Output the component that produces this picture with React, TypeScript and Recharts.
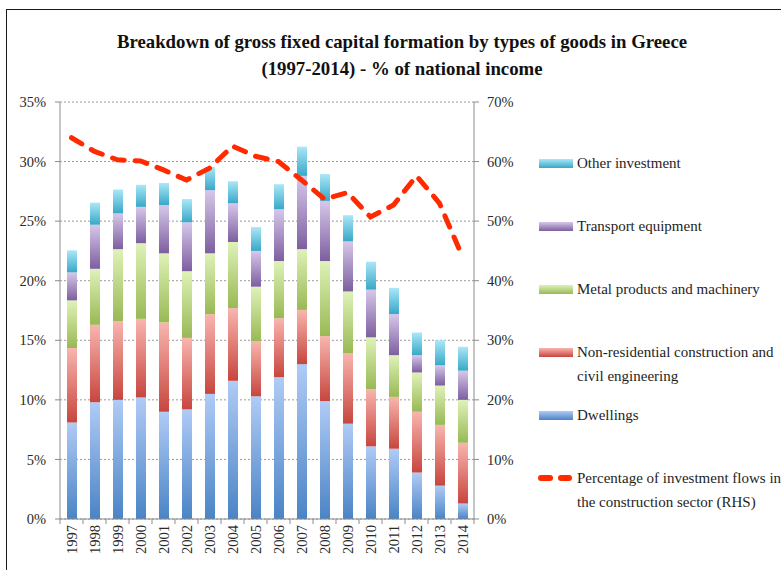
import React from 'react';
import { ComposedChart, Bar, Line, XAxis, YAxis, CartesianGrid } from 'recharts';

const SERIF = '"Liberation Serif", "DejaVu Serif", serif';

const years = ['1997', '1998', '1999', '2000', '2001', '2002', '2003', '2004', '2005', '2006', '2007', '2008', '2009', '2010', '2011', '2012', '2013', '2014'];

// % of national income (LHS)
const dwellings = [8.1, 9.8, 10.0, 10.2, 9.0, 9.2, 10.5, 11.6, 10.3, 11.9, 13.0, 9.9, 8.0, 6.1, 5.9, 3.9, 2.8, 1.3];
const nonResidential = [6.25, 6.5, 6.6, 6.6, 7.5, 6.0, 6.7, 6.1, 4.6, 4.95, 4.55, 5.45, 5.9, 4.8, 4.35, 5.1, 5.1, 5.1];
const metalProducts = [4.0, 4.7, 6.05, 6.35, 5.8, 5.6, 5.1, 5.55, 4.6, 4.8, 5.1, 6.3, 5.2, 4.35, 3.5, 3.3, 3.3, 3.6];
const transport = [2.35, 3.7, 3.0, 3.05, 4.05, 4.1, 5.3, 3.25, 3.0, 4.35, 6.15, 5.05, 4.2, 4.0, 3.45, 1.45, 1.7, 2.45];
const otherInvestment = [1.85, 1.85, 2.0, 1.85, 1.85, 1.95, 1.95, 1.85, 2.0, 2.1, 2.45, 2.25, 2.2, 2.35, 2.2, 1.9, 2.1, 2.0];

// % of investment flows in construction (RHS)
const construction = [64.0, 61.7, 60.3, 60.1, 58.6, 56.9, 58.9, 62.6, 60.9, 60.0, 56.9, 53.7, 54.8, 50.7, 52.7, 57.6, 53.0, 44.0];

const leftTicks = [0, 5, 10, 15, 20, 25, 30, 35];
const rightTicks = [0, 10, 20, 30, 40, 50, 60, 70];

const series = [
  { key: 'dwellings', name: 'Dwellings', top: '#b0cbf6', bottom: '#4a84c5' },
  { key: 'nonResidential', name: ['Non-residential construction and', 'civil engineering'], top: '#f9b5af', bottom: '#c7463e' },
  { key: 'metalProducts', name: 'Metal products and machinery', top: '#dff2b8', bottom: '#98b954' },
  { key: 'transport', name: 'Transport equipment', top: '#d6c8ea', bottom: '#7d5e9f' },
  { key: 'otherInvestment', name: 'Other investment', top: '#aae7f8', bottom: '#38a8c7' },
];

const data = years.map((year, i) => ({
  year,
  dwellings: dwellings[i],
  nonResidential: nonResidential[i],
  metalProducts: metalProducts[i],
  transport: transport[i],
  otherInvestment: otherInvestment[i],
  construction: construction[i],
}));

const STEP = 414 / years.length;

const YearTick = (props: any) => {
  const { x, y, payload, index } = props;
  const axisY = y - 6;
  return (
    <g>
      <line x1={x - STEP / 2} x2={x - STEP / 2} y1={axisY} y2={axisY + 5} stroke="#8c8c8c" />
      {index === years.length - 1 && (
        <line x1={x + STEP / 2} x2={x + STEP / 2} y1={axisY} y2={axisY + 5} stroke="#8c8c8c" />
      )}
      <text
        x={x}
        y={y}
        dy="0.35em"
        textAnchor="end"
        transform={`rotate(-90, ${x}, ${y})`}
        fill="#2a2a2a"
        fontFamily={SERIF}
        fontSize={14.5}
      >
        {payload.value}
      </text>
    </g>
  );
};

const LegendBox = () => {
  const rows = [...series].reverse();
  return (
    <div
      style={{
        position: 'absolute',
        left: 536,
        top: 151,
        width: 245,
        fontFamily: SERIF,
        fontSize: 15,
        color: '#1e1e1e',
        lineHeight: '24px',
      }}
    >
      {rows.map((s) => (
        <div key={s.key} style={{ height: 63, display: 'flex', alignItems: 'flex-start' }}>
          <div
            style={{
              width: 34,
              height: 9,
              marginTop: 8,
              marginLeft: 3,
              marginRight: 4,
              flexShrink: 0,
              background: `linear-gradient(${s.top}, ${s.bottom})`,
            }}
          />
          <div>
            {(Array.isArray(s.name) ? s.name : [s.name]).map((t) => (
              <div key={t} style={{ whiteSpace: 'nowrap' }}>{t}</div>
            ))}
          </div>
        </div>
      ))}
      <div style={{ display: 'flex', alignItems: 'flex-start' }}>
        <div style={{ width: 34, marginLeft: 2, marginRight: 5, marginTop: 9, display: 'flex', gap: 5, flexShrink: 0 }}>
          <div style={{ width: 15, height: 6, borderRadius: 3, background: '#ff2a00' }} />
          <div style={{ width: 15, height: 6, borderRadius: 3, background: '#ff2a00' }} />
        </div>
        <div>
          <div style={{ whiteSpace: 'nowrap' }}>Percentage of investment flows in</div>
          <div style={{ whiteSpace: 'nowrap' }}>the construction sector (RHS)</div>
        </div>
      </div>
    </div>
  );
};

export default function App() {
  return (
    <div style={{ position: 'absolute', left: 0, top: 0, width: 781, height: 570, overflow: 'hidden', background: '#fff' }}>
      <div
        style={{
          position: 'absolute',
          left: 6,
          top: 9,
          width: 900,
          height: 700,
          borderTop: '1.5px solid #1a1a1a',
          borderLeft: '1.5px solid #1a1a1a',
        }}
      />
      <div
        style={{
          position: 'absolute',
          left: 52,
          top: 28,
          width: 700,
          textAlign: 'center',
          fontFamily: SERIF,
          fontWeight: 'bold',
          fontSize: 18.8,
          lineHeight: '27px',
          color: '#111',
        }}
      >
        <div>Breakdown of gross fixed capital formation by types of goods in Greece</div>
        <div>(1997-2014) - % of national income</div>
      </div>
      <ComposedChart
        width={781}
        height={570}
        data={data}
        margin={{ top: 102, right: 257, bottom: 0, left: 0 }}
        barCategoryGap={0}
      >
        <defs>
          {series.map((s) => (
            <linearGradient key={s.key} id={`g-${s.key}`} x1="0" y1="0" x2="0" y2="1">
              <stop offset="0%" stopColor={s.top} />
              <stop offset="100%" stopColor={s.bottom} />
            </linearGradient>
          ))}
        </defs>
        <CartesianGrid yAxisId="left" vertical={false} stroke="#9a9a9a" strokeDasharray="2 2" />
        <XAxis
          dataKey="year"
          height={51}
          interval={0}
          tickLine={false}
          tickSize={6}
          tickMargin={0}
          axisLine={{ stroke: '#8c8c8c' }}
          tick={<YearTick />}
        />
        <YAxis
          yAxisId="left"
          width={60}
          domain={[0, 35]}
          ticks={leftTicks}
          tickFormatter={(v) => `${v}%`}
          tickSize={5}
          tickMargin={9}
          axisLine={{ stroke: '#8c8c8c' }}
          tickLine={{ stroke: '#8c8c8c' }}
          tick={{ fill: '#2a2a2a', fontFamily: SERIF, fontSize: 14.5 }}
        />
        <YAxis
          yAxisId="right"
          orientation="right"
          width={50}
          domain={[0, 70]}
          ticks={rightTicks}
          tickFormatter={(v) => `${v}%`}
          tickSize={5}
          tickMargin={8}
          axisLine={{ stroke: '#8c8c8c' }}
          tickLine={{ stroke: '#8c8c8c' }}
          tick={{ fill: '#2a2a2a', fontFamily: SERIF, fontSize: 14.5 }}
        />
        {series.map((s) => (
          <Bar
            key={s.key}
            yAxisId="left"
            dataKey={s.key}
            name={Array.isArray(s.name) ? s.name.join(' ') : s.name}
            stackId="a"
            barSize={10}
            fill={`url(#g-${s.key})`}
            isAnimationActive={false}
          />
        ))}
        <Line
          yAxisId="right"
          dataKey="construction"
          type="linear"
          stroke="#ff2a00"
          strokeWidth={5}
          strokeDasharray="12 11"
          strokeLinecap="round"
          dot={false}
          activeDot={false}
          isAnimationActive={false}
        />
      </ComposedChart>
      <LegendBox />
    </div>
  );
}
